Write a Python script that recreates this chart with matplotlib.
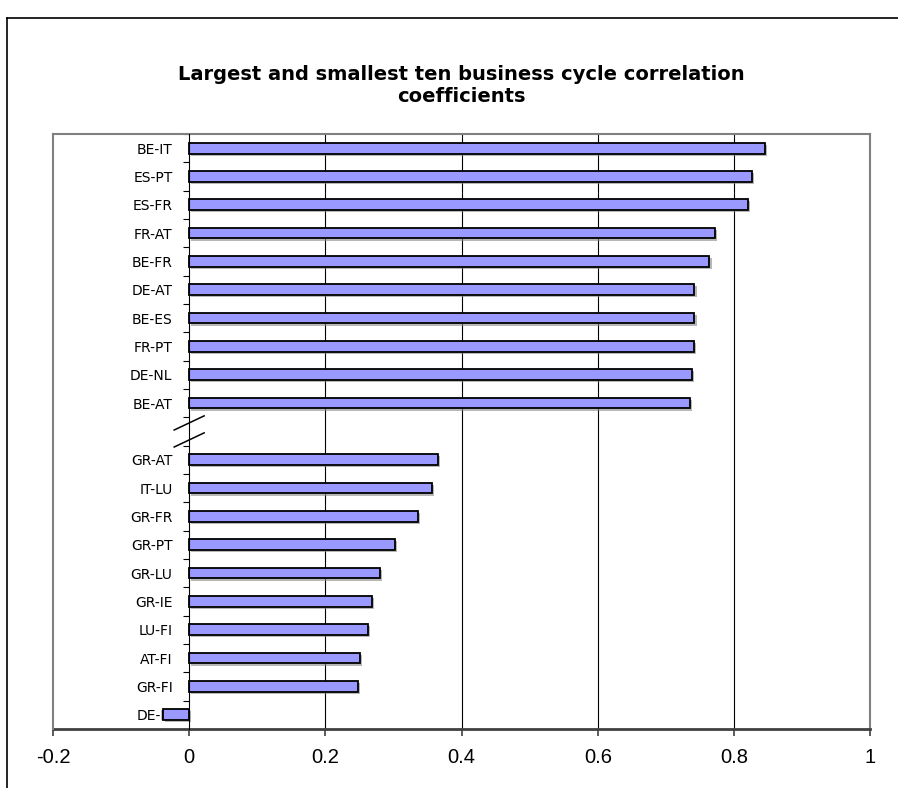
import matplotlib
matplotlib.use("Agg")
from matplotlib import pyplot as plt
from matplotlib import patheffects
from matplotlib.lines import Line2D
import numpy as np

# ten highest pairwise correlations
top_pairs = ["BE-IT", "ES-PT", "ES-FR", "FR-AT", "BE-FR",
             "DE-AT", "BE-ES", "FR-PT", "DE-NL", "BE-AT"]
top_values = [0.845, 0.826, 0.820, 0.772, 0.764,
              0.742, 0.742, 0.741, 0.738, 0.735]

# ten lowest pairwise correlations
bottom_pairs = ["GR-AT", "IT-LU", "GR-FR", "GR-PT", "GR-LU",
                "GR-IE", "LU-FI", "AT-FI", "GR-FI", "DE-FI"]
bottom_values = [0.365, 0.356, 0.336, 0.302, 0.280,
                 0.268, 0.262, 0.251, 0.248, -0.039]

x_ticks = [-0.2, 0, 0.2, 0.4, 0.6, 0.8, 1]
x_tick_labels = ["-0.2", "0", "0.2", "0.4", "0.6", "0.8", "1"]

title = "Largest and smallest ten business cycle correlation\ncoefficients"

plt.rcParams["font.family"] = ["Liberation Sans", "DejaVu Sans"]

# one empty slot between the two groups
gap = 1
y_top = np.arange(len(top_pairs))
y_bottom = np.arange(len(bottom_pairs)) + len(top_pairs) + gap
positions = np.concatenate([y_top, y_bottom])
values = top_values + bottom_values
labels = top_pairs + bottom_pairs
n_slots = len(top_pairs) + gap + len(bottom_pairs)

fig = plt.figure(figsize=(8.98, 7.88), dpi=100)
ax = fig.add_axes([0.059, 0.075, 0.910, 0.755])

shadow = [patheffects.SimplePatchShadow(offset=(1.5, -1.5),
                                        shadow_rgbFace="#888888", alpha=0.6),
          patheffects.Normal()]
bars = ax.barh(positions, values, height=0.38, color="#9999ff",
               edgecolor="black", linewidth=1.3, zorder=3)
for b in bars:
    b.set_path_effects(shadow)

ax.set_xlim(-0.2, 1)
ax.set_ylim(n_slots - 0.5, -0.5)

# vertical gridlines only inside the plot area
for x in x_ticks[2:-1]:
    ax.axvline(x, color="black", linewidth=0.8, zorder=1)

# category axis sits on zero
ax.spines["left"].set_position(("data", 0))
ax.spines["left"].set_color("black")
ax.spines["left"].set_linewidth(0.8)
ax.spines["left"].set_zorder(4)
for side in ["top", "right"]:
    ax.spines[side].set_color("#808080")
    ax.spines[side].set_linewidth(1.5)
ax.spines["bottom"].set_color("#404040")
ax.spines["bottom"].set_linewidth(2)

# left edge of plot area
ax.plot([0, 0], [0, 1], transform=ax.transAxes, color="#808080",
        linewidth=1.5, clip_on=False, zorder=5)

ax.set_yticks(positions)
ax.set_yticklabels(labels, fontsize=10, family="DejaVu Sans")
ax.set_yticks(np.arange(n_slots + 1) - 0.5, minor=True)
ax.tick_params(axis="y", which="major", length=0, pad=12)
ax.tick_params(axis="y", which="minor", length=4, width=0.8, direction="out")

ax.set_xticks(x_ticks)
ax.set_xticklabels(x_tick_labels, fontsize=14.5)
ax.tick_params(axis="x", length=5, width=1.2, color="#404040", pad=9)

# axis break marks over the empty slot
gap_pos = len(top_pairs)
for off in [-0.3, 0.3]:
    ax.plot([-0.022, 0.022], [gap_pos + off + 0.25, gap_pos + off - 0.25],
            color="black", linewidth=1.1, clip_on=False, zorder=6)

fig.text(0.514, 0.891, title, ha="center", va="center", fontsize=14,
         fontweight="bold", family="DejaVu Sans", linespacing=1.2)

# outer chart frame
fig.add_artist(Line2D([0.008, 0.008], [0, 1 - 18 / 788], color="black",
                      linewidth=1.2))
fig.add_artist(Line2D([0.008, 1], [1 - 18 / 788, 1 - 18 / 788], color="black",
                      linewidth=1.2))

plt.savefig("out.png")
